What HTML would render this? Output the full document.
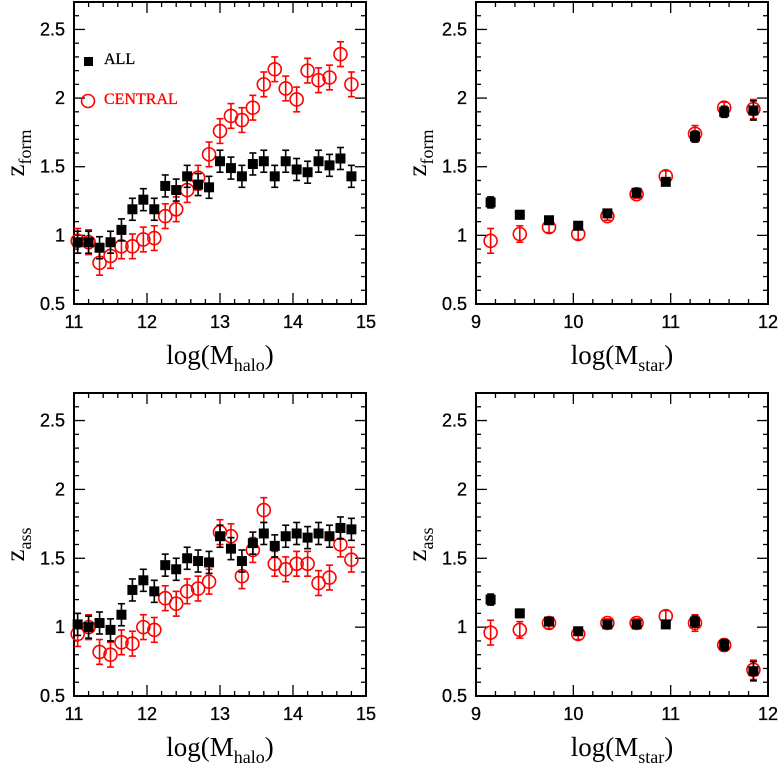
<!DOCTYPE html>
<html><head><meta charset="utf-8"><style>
body{margin:0;background:#fff;}
svg{display:block;font-family:"Liberation Sans",sans-serif;}
</style></head><body>
<svg id="chart" width="779" height="763" viewBox="0 0 779 763" xmlns="http://www.w3.org/2000/svg"></svg>
<script>
const haloX = [11.05,11.2,11.35,11.5,11.65,11.8,11.95,12.1,12.25,12.4,12.55,12.7,12.85,13,13.15,13.3,13.45,13.6,13.75,13.9,14.05,14.2,14.35,14.5,14.65,14.8];
const starX = [9.15,9.45,9.75,10.05,10.35,10.65,10.95,11.25,11.55,11.85];
const formHaloAll = [0.95,0.95,0.91,0.95,1.04,1.19,1.26,1.19,1.36,1.33,1.43,1.37,1.35,1.54,1.49,1.43,1.52,1.54,1.43,1.54,1.48,1.46,1.54,1.51,1.56,1.43];
const formHaloCen = [0.96,0.95,0.80,0.85,0.92,0.92,0.97,0.98,1.14,1.19,1.33,1.42,1.59,1.76,1.87,1.84,1.93,2.10,2.21,2.07,1.99,2.20,2.13,2.15,2.32,2.10];
const assHaloAll = [1.02,1.00,1.03,0.98,1.09,1.27,1.34,1.26,1.45,1.42,1.50,1.48,1.47,1.66,1.57,1.48,1.61,1.68,1.59,1.66,1.68,1.65,1.68,1.66,1.72,1.71];
const assHaloCen = [0.95,1.00,0.82,0.80,0.89,0.88,1.00,0.98,1.21,1.17,1.26,1.28,1.33,1.69,1.66,1.37,1.56,1.85,1.46,1.42,1.46,1.46,1.32,1.36,1.60,1.49];
const formStarAll = [1.24,1.15,1.11,1.07,1.16,1.31,1.39,1.72,1.90,1.91];
const formStarCen = [0.96,1.01,1.06,1.01,1.14,1.30,1.43,1.74,1.93,1.92];
const assStarAll = [1.20,1.10,1.04,0.97,1.02,1.02,1.02,1.04,0.87,0.68];
const assStarCen = [0.96,0.98,1.03,0.95,1.03,1.03,1.08,1.03,0.87,0.69];
const haloErrAll = 0.08, haloErrCen = 0.09;
const starErrAll = [0.04,0.03,0.02,0.02,0.02,0.02,0.02,0.04,0.04,0.07];
const starErrCen = [0.09,0.06,0.04,0.04,0.03,0.03,0.04,0.06,0.04,0.07];
const yTicks = [0.5,1,1.5,2,2.5];
const yTickLabels = ["0.5","1","1.5","2","2.5"];

const NS="http://www.w3.org/2000/svg";
const svg=document.getElementById('chart');
function mk(tag,attrs,parent){const e=document.createElementNS(NS,tag);for(const k in attrs)e.setAttribute(k,attrs[k]);(parent||svg).appendChild(e);return e;}

function panel(name,L,R,T,B,x0,x1,xt,xl,xMinorStep,ytitle,xsub,xs,all,cen,eAll,eCen,legend){
  const g=mk('g',{});
  
  
  const y0=0.5,y1=2.7;
  const sx=v=>L+(v-x0)/(x1-x0)*(R-L);
  const sy=v=>B-(v-y0)/(y1-y0)*(B-T);
  const fr=mk('rect',{x:L,y:T,width:R-L,height:B-T,fill:'none',stroke:'#000','stroke-width':2},g);
  
  
  for(let v=0.5;v<=2.71;v+=0.1){
    const vv=Math.round(v*10)/10;const major=Math.abs(vv*2-Math.round(vv*2))<1e-6;const len=major?11:5;
    mk('line',{x1:L,x2:L+len,y1:sy(vv),y2:sy(vv),stroke:'#000','stroke-width':1.3},g);
    mk('line',{x1:R,x2:R-len,y1:sy(vv),y2:sy(vv),stroke:'#000','stroke-width':1.3},g);
  }
  yTicks.forEach((v,i)=>{const t=mk('text',{x:L-9,y:sy(v)+6,'text-anchor':'end','font-size':18,'stroke':'#000','stroke-width':0.3},g);t.textContent=yTickLabels[i];
    });
  for(let v=x0;v<=x1+1e-6;v+=xMinorStep){
    const major=Math.abs(v-Math.round(v))<1e-6;const len=major?11:5;
    mk('line',{x1:sx(v),x2:sx(v),y1:B,y2:B-len,stroke:'#000','stroke-width':1.3},g);
    mk('line',{x1:sx(v),x2:sx(v),y1:T,y2:T+len,stroke:'#000','stroke-width':1.3},g);
  }
  xt.forEach((v,i)=>{const t=mk('text',{x:sx(v),y:B+24,'text-anchor':'middle','font-size':18,'stroke':'#000','stroke-width':0.3},g);t.textContent=xl[i];
    });
  const xtT=mk('text',{x:(L+R)/2,y:B+60,'text-anchor':'middle','font-size':27,'font-family':'"Liberation Serif",serif'},g);
  xtT.innerHTML='log(M<tspan font-size="18" dy="7">'+xsub+'</tspan><tspan dy="-7">)</tspan>';
  
  const ytT=mk('text',{transform:`translate(${L-50},${(T+B)/2}) rotate(-90)`,'text-anchor':'middle','font-size':27,'font-family':'"Liberation Serif",serif'},g);
  ytT.innerHTML='z<tspan font-size="18" dy="7">'+ytitle+'</tspan>';
  
  xs.forEach((x,i)=>{const e=Array.isArray(eCen)?eCen[i]:eCen;const cx=sx(x),cy=sy(cen[i]);
    const eg=mk('g',{stroke:'#f00','stroke-width':1.6},g);
    
    mk('line',{x1:cx,x2:cx,y1:sy(cen[i]-e),y2:sy(cen[i]+e)},eg);
    mk('line',{x1:cx-3.5,x2:cx+3.5,y1:sy(cen[i]-e),y2:sy(cen[i]-e)},eg);
    mk('line',{x1:cx-3.5,x2:cx+3.5,y1:sy(cen[i]+e),y2:sy(cen[i]+e)},eg);
    mk('circle',{cx:cx,cy:cy,r:6.5,fill:'none'},eg);
  });
  xs.forEach((x,i)=>{const e=Array.isArray(eAll)?eAll[i]:eAll;const cx=sx(x),cy=sy(all[i]);
    const eg=mk('g',{stroke:'#000','stroke-width':1.6},g);
    
    mk('line',{x1:cx,x2:cx,y1:sy(all[i]-e),y2:sy(all[i]+e)},eg);
    mk('line',{x1:cx-3.5,x2:cx+3.5,y1:sy(all[i]-e),y2:sy(all[i]-e)},eg);
    mk('line',{x1:cx-3.5,x2:cx+3.5,y1:sy(all[i]+e),y2:sy(all[i]+e)},eg);
    mk('rect',{x:cx-5,y:cy-5,width:10,height:10,fill:'#000',stroke:'none'},eg);
  });
  if(legend){
    const lg=mk('g',{},g);
    
    mk('rect',{x:84,y:57,width:9,height:9,fill:'#000'},lg);
    const t1=mk('text',{x:104,y:64,'font-size':16,'font-family':'"Liberation Serif",serif','stroke':'#000','stroke-width':0.3},lg);t1.textContent='ALL';
    
    mk('circle',{cx:88,cy:101,r:6.5,fill:'none',stroke:'#f00','stroke-width':1.6},lg);
    const t2=mk('text',{x:104,y:104,'font-size':16,fill:'#f00','font-family':'"Liberation Serif",serif','stroke':'#f00','stroke-width':0.3},lg);t2.textContent='CENTRAL';
    
  }
}
const hT=[11,12,13,14,15],hL=["11","12","13","14","15"];
const sT=[9,10,11,12],sL=["9","10","11","12"];
panel('panel-zform-halo',74,366,2,304,11,15,hT,hL,0.2,'form','halo',haloX,formHaloAll,formHaloCen,haloErrAll,haloErrCen,true);
panel('panel-zform-star',476,768,2,304,9,12,sT,sL,0.2,'form','star',starX,formStarAll,formStarCen,starErrAll,starErrCen,false);
panel('panel-zass-halo',74,366,393,696,11,15,hT,hL,0.2,'ass','halo',haloX,assHaloAll,assHaloCen,haloErrAll,haloErrCen,false);
panel('panel-zass-star',476,768,393,696,9,12,sT,sL,0.2,'ass','star',starX,assStarAll,assStarCen,starErrAll,starErrCen,false);
</script>
</body></html>
